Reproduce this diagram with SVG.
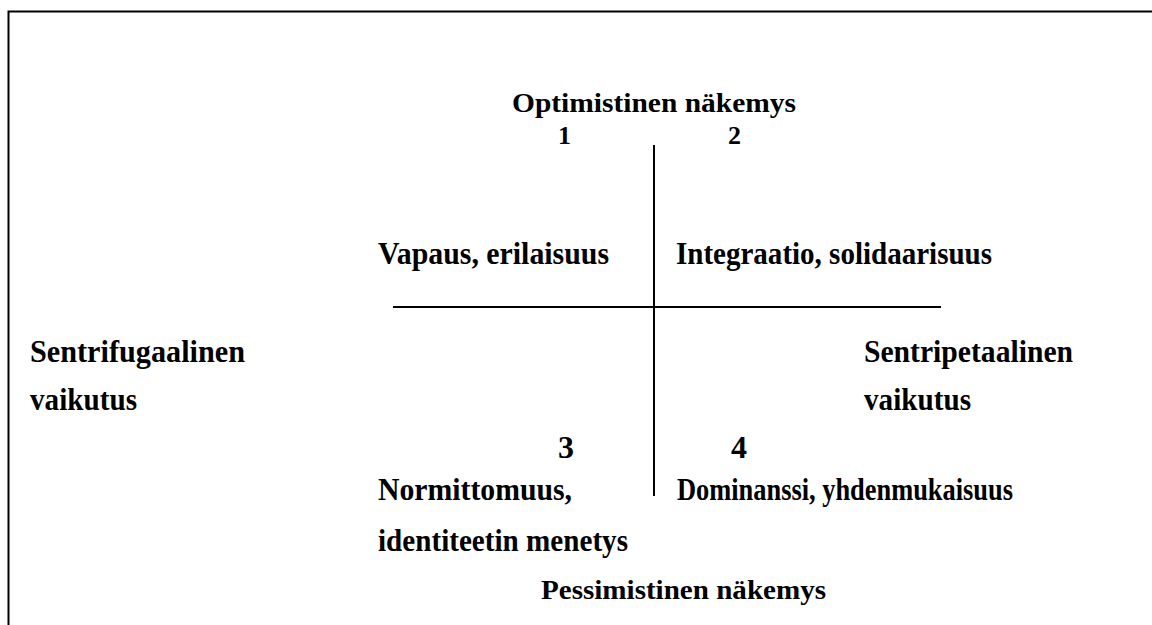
<svg xmlns="http://www.w3.org/2000/svg" width="1152" height="625" viewBox="0 0 1152 625">
<style>
text{font-family:"Liberation Serif","Times New Roman",serif;font-weight:bold;font-size:32px;fill:#000}
.t{font-size:28px}
.d{font-size:26px}
.ln{stroke:#000;stroke-width:2;fill:none}
</style>
<rect width="1152" height="625" fill="#fff"/>
<g id="frame"><path class="ln" d="M8.5,626 V11.5 H1152" stroke-width="2.5"/></g>
<g id="connectors">
<line class="ln" x1="654" y1="145" x2="654" y2="496"/>
<line class="ln" x1="393" y1="307" x2="941" y2="307"/>
</g>
<g id="top"><text class="t" x="512" y="112" textLength="284" lengthAdjust="spacingAndGlyphs">Optimistinen näkemys</text></g>
<g id="n1"><text class="d" x="558" y="144">1</text></g>
<g id="n2"><text class="d" x="728" y="144">2</text></g>
<g id="q1"><text x="378" y="264" textLength="231" lengthAdjust="spacingAndGlyphs">Vapaus, erilaisuus</text></g>
<g id="q2"><text x="676" y="264" textLength="316" lengthAdjust="spacingAndGlyphs">Integraatio, solidaarisuus</text></g>
<g id="left"><text x="30" y="362" textLength="215" lengthAdjust="spacingAndGlyphs">Sentrifugaalinen</text><text x="30" y="410" textLength="107" lengthAdjust="spacingAndGlyphs">vaikutus</text></g>
<g id="right"><text x="864" y="362" textLength="209" lengthAdjust="spacingAndGlyphs">Sentripetaalinen</text><text x="864" y="410" textLength="107" lengthAdjust="spacingAndGlyphs">vaikutus</text></g>
<g id="n3"><text x="558" y="458" textLength="16" lengthAdjust="spacingAndGlyphs">3</text></g>
<g id="n4"><text x="731" y="458" textLength="16" lengthAdjust="spacingAndGlyphs">4</text></g>
<g id="q3"><text x="378" y="500" textLength="194" lengthAdjust="spacingAndGlyphs">Normittomuus,</text><text x="378" y="551" textLength="250" lengthAdjust="spacingAndGlyphs">identiteetin menetys</text></g>
<g id="q4"><text x="677" y="500" textLength="336" lengthAdjust="spacingAndGlyphs">Dominanssi, yhdenmukaisuus</text></g>
<g id="bottom"><text class="t" x="541" y="599" textLength="285" lengthAdjust="spacingAndGlyphs">Pessimistinen näkemys</text></g>
</svg>
